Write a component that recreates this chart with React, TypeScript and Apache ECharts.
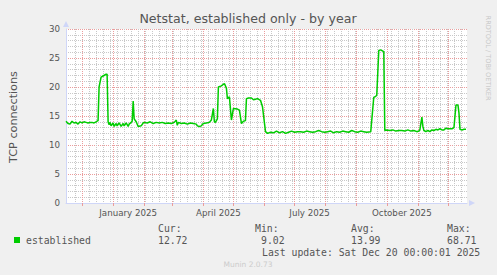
import React, { useEffect, useRef } from "react";
import * as echarts from "echarts";

// ---- data ----
const startDate = "2024-11-15";
const endDate = "2025-12-20";

// days since startDate
const dayOffsets = [
  0, 2, 4, 6, 8, 10, 12, 14, 16, 18, 20, 22, 24, 26, 28, 30, 31, 32, 33, 35, 37, 40, 41, 42, 43, 44, 45, 47, 48, 50,
  51, 53, 55, 57, 58, 60, 62, 63, 65, 66, 67, 68, 70, 72, 75, 77, 78, 81, 84, 87, 90, 93, 96, 99, 102, 105, 108, 110,
  111, 112, 115, 118, 121, 124, 127, 130, 131, 133, 135, 137, 140, 143, 145, 147, 148, 149, 151, 152, 155, 158, 160,
  161, 163, 165, 167, 171, 173, 175, 177, 179, 180, 182, 185, 187, 189, 191, 194, 196, 199, 201, 204, 207, 210, 213,
  216, 219, 222, 225, 228, 231, 234, 237, 240, 243, 246, 249, 252, 255, 258, 261, 264, 267, 270, 273, 276, 279, 282,
  285, 288, 291, 294, 297, 300, 304, 307, 309, 310, 312, 314, 316, 317, 318, 320, 323, 326, 329, 332, 335, 338, 341,
  344, 347, 350, 352, 353, 355, 356, 357, 359, 361, 363, 365, 367, 369, 371, 373, 375, 377, 379, 381, 383, 385, 387,
  389, 391, 392, 393, 395, 397, 399,
];
const connections = [
  14.1, 13.7, 13.6, 14.1, 13.8, 13.9, 13.6, 14.0, 13.8, 14.0, 13.9, 13.8, 13.9, 13.9, 13.8, 14.0, 14.1, 14.2, 20.0,
  21.7, 21.9, 22.2, 22.2, 14.0, 13.5, 13.9, 13.3, 13.8, 13.2, 13.7, 13.3, 13.8, 13.2, 13.7, 13.3, 13.8, 13.2, 13.6,
  13.9, 14.1, 17.6, 14.5, 14.0, 13.2, 13.3, 13.8, 13.9, 13.8, 14.0, 13.7, 13.9, 13.8, 13.9, 13.7, 13.8, 13.7, 13.9,
  14.3, 13.4, 13.9, 13.7, 13.8, 13.6, 13.8, 13.7, 13.6, 13.3, 13.2, 13.3, 13.7, 13.8, 13.9, 14.3, 16.3, 14.0, 13.9,
  14.5, 20.0, 20.2, 20.6, 19.8, 18.0, 18.3, 14.3, 16.3, 16.2, 16.0, 13.7, 14.1, 14.2, 18.0, 18.1, 18.1, 17.8, 17.9,
  18.0, 17.7, 16.6, 12.3, 12.0, 12.2, 12.1, 12.4, 12.1, 12.3, 12.0, 12.2, 12.4, 12.2, 12.3, 12.3, 12.2, 12.4, 12.3,
  12.2, 12.3, 12.5, 12.3, 12.2, 12.3, 12.4, 12.1, 12.3, 12.2, 12.4, 12.3, 12.2, 12.5, 12.3, 12.2, 12.4, 12.3, 12.2,
  12.3, 18.2, 18.4, 18.6, 26.3, 26.4, 26.2, 26.1, 12.5, 12.6, 12.5, 12.6, 12.4, 12.5, 12.5, 12.4, 12.6, 12.4, 12.5,
  12.3, 12.4, 12.6, 14.8, 13.2, 12.5, 12.3, 12.5, 12.3, 12.6, 12.5, 12.7, 12.6, 12.8, 12.6, 12.6, 12.9, 12.8, 12.8,
  12.8, 13.0, 16.9, 16.9, 15.5, 12.7, 12.6, 12.7, 12.72,
];

const monthStarts = [
  "2024-12-01", "2025-01-01", "2025-02-01", "2025-03-01", "2025-04-01", "2025-05-01", "2025-06-01",
  "2025-07-01", "2025-08-01", "2025-09-01", "2025-10-01", "2025-11-01", "2025-12-01",
];
const labelDates = ["2025-01-16", "2025-04-16", "2025-07-16", "2025-10-16"];
const labelTexts = ["January 2025", "April 2025", "July 2025", "October 2025"];
const firstWeekLine = "2024-11-24";

const yTicks = { min: 0, max: 30, interval: 5 };

const legendName = "established";
const statHeads = ["Cur:", "Min:", "Avg:", "Max:"];
const statValues = ["12.72", "9.02", "13.99", "68.71"];
const lastUpdate = "Last update: Sat Dec 20 00:00:01 2025";
const titleText = "Netstat, established only - by year";
const yName = "TCP connections";
const munin = "Munin 2.0.73";
const rrdMark = "RRDTOOL / TOBI OETIKER";

const DAY = 86400000;
const ts = (s: string) => {
  const [y, m, d] = s.split("-").map(Number);
  return Date.UTC(y, m - 1, d);
};

export default function App() {
  const ref = useRef<HTMLDivElement>(null);
  useEffect(() => {
    if (!ref.current) return;
    const chart = echarts.init(ref.current, undefined, { renderer: "svg" });
    const start = ts(startDate);
    const toDay = (s: string) => Math.round((ts(s) - start) / DAY);
    const totalDays = toDay(endDate);
    const seriesData = dayOffsets.map((d, i) => [d, connections[i]]);
    const weekLines: number[] = [];
    for (let d = toDay(firstWeekLine); d < totalDays; d += 7) weekLines.push(d);
    const months = monthStarts.map(toDay);
    const labelPos = labelDates.map(toDay);

    const sans = '"DejaVu Sans"';
    const mono = '"DejaVu Sans Mono"';
    const fontCol = "#555555";
    const axisCol = "#CFD6F8";
    const mono10 = `9.8px ${mono}`;

    const txt = (text: string, x: number, y: number, font: string, fill = fontCol, align = "left", rotation = 0) => ({
      type: "text",
      x,
      y,
      rotation,
      silent: true,
      style: { text, font, fill, textAlign: align, textVerticalAlign: "middle" },
    });

    const statX = [158, 255, 351, 447];
    const statValX = [158, 261, 351, 447];

    chart.setOption({
      animation: false,
      backgroundColor: "#f0f0f0",
      grid: {
        left: 66,
        top: 29,
        right: 30,
        bottom: 72,
        show: true,
        backgroundColor: "#ffffff",
        borderWidth: 0,
      },
      xAxis: [
        {
          type: "value",
          position: "bottom",
          min: 0,
          max: totalDays,
          axisLine: { show: false },
          axisLabel: { show: false },
          axisTick: { show: false, customValues: weekLines },
          splitLine: { show: true, lineStyle: { color: "#c8c8c8", type: [1, 1], width: 1 } },
        },
        {
          type: "value",
          position: "bottom",
          min: 0,
          max: totalDays,
          axisLine: {
            show: true,
            lineStyle: { color: axisCol, width: 1 },
            symbol: ["none", "triangle"],
            symbolSize: [6, 6],
            symbolOffset: [0, 5],
          },
          axisTick: {
            show: true,
            customValues: months,
            length: 3,
            lineStyle: { color: "#eb9c9c" },
          },
          axisLabel: {
            show: true,
            customValues: labelPos,
            margin: 5,
            color: fontCol,
            fontFamily: sans,
            fontSize: 8.7,
            formatter: (v: number) => {
              const i = labelPos.indexOf(v);
              return i >= 0 ? labelTexts[i] : "";
            },
          },
          splitLine: { show: true, lineStyle: { color: "#eb9c9c", type: [1, 1], width: 1 } },
        },
      ],
      yAxis: {
        type: "value",
        min: yTicks.min,
        max: yTicks.max,
        interval: yTicks.interval,
        axisLine: {
          show: true,
          lineStyle: { color: axisCol, width: 1 },
          symbol: ["none", "triangle"],
          symbolSize: [6, 6],
          symbolOffset: [0, 5],
        },
        axisTick: { show: false },
        axisLabel: { color: fontCol, fontFamily: sans, fontSize: 8.7, margin: 6 },
        splitLine: { show: true, lineStyle: { color: "#eb9c9c", type: [1, 1], width: 1 } },
        minorTick: { show: false, splitNumber: 5 },
        minorSplitLine: { show: true, lineStyle: { color: "#c8c8c8", type: [1, 1], width: 1 } },
      },
      series: [
        {
          type: "line",
          name: legendName,
          xAxisIndex: 1,
          data: seriesData,
          showSymbol: false,
          symbol: "none",
          lineStyle: { color: "#00cc00", width: 1.5 },
          z: 5,
        },
      ],
      graphic: [
        txt(titleText, 248, 18, `12.6px ${sans}`, fontCol, "center"),
        txt(yName, 13, 117, `11.2px ${sans}`, fontCol, "center", Math.PI / 2),
        txt(rrdMark, 488, 58, `6.6px ${sans}`, "#c8c8c8", "center", -Math.PI / 2),
        {
          type: "rect",
          shape: { x: 14, y: 237, width: 6, height: 6 },
          style: { fill: "#00cc00" },
          silent: true,
        },
        txt(legendName, 26, 240, mono10),
        ...statHeads.map((h, i) => txt(h, statX[i], 228, mono10)),
        ...statValues.map((v, i) => txt(v, statValX[i], 240, mono10)),
        txt(lastUpdate, 262, 252, mono10),
        txt(munin, 248, 264, `7.5px ${sans}`, "#cccccc", "center"),
      ],
    });
    return () => chart.dispose();
  }, []);
  return (
    <div
      ref={ref}
      style={{ position: "fixed", left: 0, top: 0, width: 497, height: 275, background: "#f0f0f0" }}
    />
  );
}
